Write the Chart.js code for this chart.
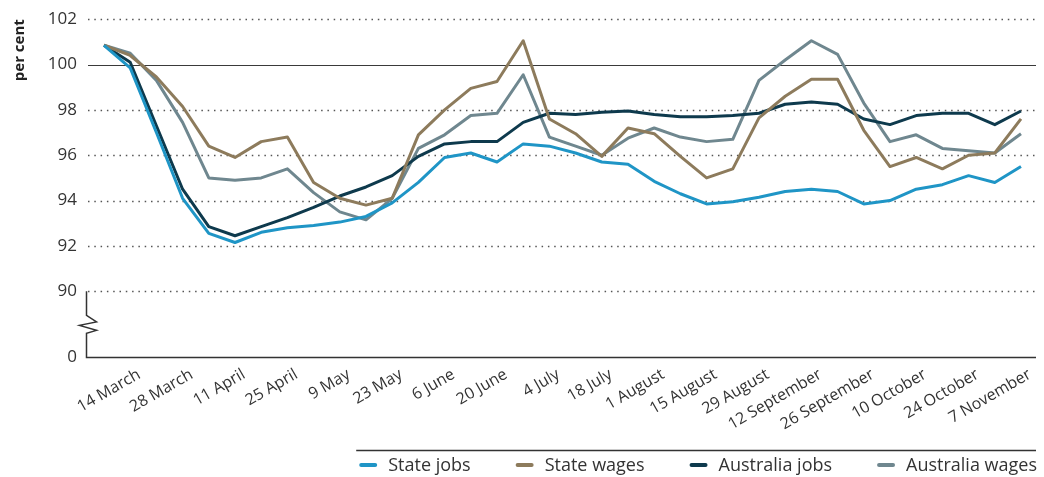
<!DOCTYPE html>
<html>
<head>
<meta charset="utf-8">
<title>Jobs and wages</title>
<script src="https://cdn.jsdelivr.net/npm/chart.js@4.4.1/dist/chart.umd.min.js"></script>
<style>
  html, body { margin: 0; padding: 0; background: #fff; }
  #wrap { width: 1044px; height: 477px; }
</style>
</head>
<body>
<div id="wrap"><canvas id="myChart"></canvas></div>
<script>
'use strict';

// ******* DATA *******
let weeks = ['7 March', '14 March', '21 March', '28 March', '4 April', '11 April', '18 April', '25 April',
  '2 May', '9 May', '16 May', '23 May', '30 May', '6 June', '13 June', '20 June', '27 June', '4 July',
  '11 July', '18 July', '25 July', '1 August', '8 August', '15 August', '22 August', '29 August',
  '5 September', '12 September', '19 September', '26 September', '3 October', '10 October',
  '17 October', '24 October', '31 October', '7 November'];

let stateJobs = [100.85, 99.85, 97.0, 94.1, 92.55, 92.15, 92.6, 92.8, 92.9, 93.05, 93.3, 93.9,
  94.8, 95.9, 96.1, 95.7, 96.5, 96.4, 96.1, 95.7, 95.6, 94.85, 94.3, 93.85, 93.95, 94.15,
  94.4, 94.5, 94.4, 93.85, 94.0, 94.5, 94.7, 95.1, 94.8, 95.5];

let stateWages = [100.85, 100.4, 99.45, 98.15, 96.4, 95.9, 96.6, 96.8, 94.8, 94.1, 93.8, 94.1,
  96.9, 98.0, 98.95, 99.25, 101.05, 97.6, 96.95, 95.95, 97.2, 96.95, 95.95, 95.0, 95.4, 97.65,
  98.6, 99.35, 99.35, 97.1, 95.5, 95.9, 95.4, 96.0, 96.1, 97.6];

let ausJobs = [100.85, 100.1, 97.3, 94.5, 92.85, 92.45, 92.85, 93.25, 93.7, 94.2, 94.6, 95.1,
  95.95, 96.5, 96.6, 96.6, 97.45, 97.85, 97.8, 97.9, 97.95, 97.8, 97.7, 97.7, 97.75, 97.85,
  98.25, 98.35, 98.25, 97.6, 97.35, 97.75, 97.85, 97.85, 97.35, 97.95];

let ausWages = [100.85, 100.5, 99.3, 97.45, 95.0, 94.9, 95.0, 95.4, 94.35, 93.5, 93.15, 94.1,
  96.3, 96.9, 97.75, 97.85, 99.55, 96.8, 96.4, 96.0, 96.75, 97.2, 96.8, 96.6, 96.7, 99.3,
  100.2, 101.05, 100.45, 98.3, 96.6, 96.9, 96.3, 96.2, 96.1, 96.95];

let yTicks = [90, 92, 94, 96, 98, 100, 102];
let yBreak = 87.1; // where the axis is cut, labelled 0

let fontName = '"Open Sans", "Noto Sans", sans-serif';

// ***** HELPERS *****
function toPoints(values) {
  return values.map((v, i) => ({ x: i, y: v }));
}

function makeSeries(label, values, color) {
  return {
    label: label,
    data: toPoints(values),
    borderColor: color,
    backgroundColor: color,
    borderWidth: 3,
    borderJoinStyle: 'round',
    pointRadius: 0,
    tension: 0
  };
}

// ***** PLUGINS *****
const gridPlugin = {
  id: 'gridPlugin',
  beforeDatasetsDraw(chart) {
    const { ctx, chartArea, scales: { y } } = chart;
    ctx.save();
    yTicks.forEach(v => {
      const py = Math.round(y.getPixelForValue(v)) + 0.5;
      ctx.beginPath();
      if (v === 100) {
        ctx.setLineDash([]);
        ctx.strokeStyle = '#3a3a3a';
        ctx.lineWidth = 1.2;
      } else {
        ctx.setLineDash([1.5, 4.8]);
        ctx.strokeStyle = '#555';
        ctx.lineWidth = 1.5;
      }
      ctx.moveTo(chartArea.left + 2, py);
      ctx.lineTo(chartArea.right, py);
      ctx.stroke();
    });

    // axis with the break between 90 and 0
    const left = chartArea.left + 0.5;
    const top = y.getPixelForValue(yTicks[0]);
    const bottom = Math.round(y.getPixelForValue(yBreak)) + 0.5;
    const mid = (top + bottom) / 2;
    ctx.setLineDash([]);
    ctx.strokeStyle = '#333';
    ctx.lineWidth = 1.5;
    ctx.beginPath();
    ctx.moveTo(left, top);
    ctx.lineTo(left, mid - 9);
    ctx.lineTo(left + 10, mid - 2.5);
    ctx.lineTo(left - 7, mid + 1);
    ctx.lineTo(left + 10, mid + 6);
    ctx.lineTo(left, mid + 9);
    ctx.lineTo(left, bottom);
    ctx.lineTo(chartArea.right, bottom);
    ctx.stroke();
    ctx.restore();
  }
};

const legendPlugin = {
  id: 'bottomLegend',
  afterDraw(chart) {
    const { ctx, chartArea } = chart;
    const markW = 18;
    const textGap = 11;
    const itemGap = 45;
    const rowY = 466;
    ctx.save();
    ctx.font = '18px ' + fontName;
    let items = chart.data.datasets.map(ds => ({
      text: ds.label,
      color: ds.borderColor,
      width: markW + textGap + ctx.measureText(ds.label).width
    }));
    let total = items.reduce((sum, it) => sum + it.width, 0) + itemGap * (items.length - 1);
    let x = 1037 - total;

    // rule above the legend
    ctx.strokeStyle = '#333';
    ctx.lineWidth = 1.5;
    ctx.beginPath();
    ctx.moveTo(x - 3, 450.5);
    ctx.lineTo(chartArea.right, 450.5);
    ctx.stroke();

    items.forEach(it => {
      ctx.strokeStyle = it.color;
      ctx.lineWidth = 4;
      ctx.lineCap = 'round';
      ctx.beginPath();
      ctx.moveTo(x + 2, rowY - 1);
      ctx.lineTo(x + markW - 2, rowY - 1);
      ctx.stroke();
      ctx.fillStyle = '#333';
      ctx.textBaseline = 'middle';
      ctx.textAlign = 'left';
      ctx.fillText(it.text, x + markW + textGap, rowY);
      x += it.width + itemGap;
    });
    ctx.restore();
  }
};

// ***** CHART *****
function renderChart() {
  const data = {
    datasets: [
      makeSeries('State jobs', stateJobs, '#1f95c6'),
      makeSeries('State wages', stateWages, '#8d7b5c'),
      makeSeries('Australia jobs', ausJobs, '#0e3a4d'),
      makeSeries('Australia wages', ausWages, '#6f878f')
    ]
  };

  const config = {
    type: 'line',
    data: data,
    options: {
      responsive: true,
      maintainAspectRatio: false,
      animation: false,
      devicePixelRatio: 1,
      layout: {
        padding: { top: 18, right: 8, bottom: 0, left: 0 }
      },
      plugins: {
        legend: { display: false },
        tooltip: { enabled: false }
      },
      scales: {
        x: {
          type: 'linear',
          min: -0.687,
          max: 35.573,
          afterBuildTicks: (scale) => {
            scale.ticks = weeks.map((w, i) => ({ value: i })).filter(t => t.value % 2 === 1);
          },
          afterFit: (scale) => { scale.height = 120; },
          grid: { display: false, drawTicks: false },
          border: { display: false },
          ticks: {
            autoSkip: false,
            minRotation: 30,
            maxRotation: 30,
            padding: 8,
            labelOffset: 9,
            color: '#333',
            font: { family: fontName, size: 16 },
            callback: (value) => weeks[value]
          }
        },
        y: {
          min: yBreak,
          max: 102,
          afterBuildTicks: (scale) => {
            scale.ticks = [yBreak].concat(yTicks).map(v => ({ value: v }));
          },
          afterFit: (scale) => { scale.width = 86; },
          grid: { display: false, drawTicks: false },
          border: { display: false },
          ticks: {
            padding: 9,
            color: '#333',
            font: { family: fontName, size: 17 },
            callback: (value) => (value < yTicks[0] ? '0' : value)
          },
          title: {
            display: true,
            text: 'per cent',
            align: 'end',
            color: '#222',
            padding: { top: 11, bottom: 0 },
            font: { family: fontName, size: 15, weight: 'bold' }
          }
        }
      }
    },
    plugins: [gridPlugin, legendPlugin]
  };

  let canvasChart = document.getElementById('myChart');
  const myChart = new Chart(canvasChart, config);
}

renderChart();
</script>
</body>
</html>
